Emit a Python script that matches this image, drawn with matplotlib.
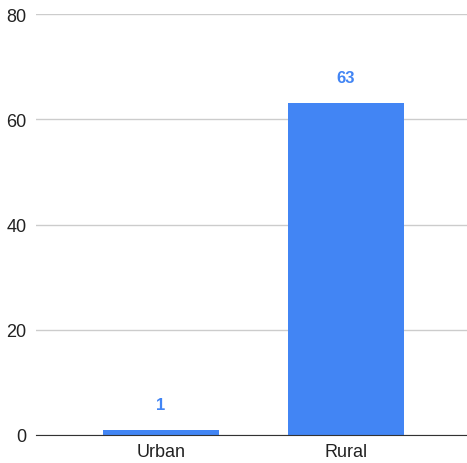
import matplotlib

matplotlib.use("Agg")
import matplotlib.pyplot as plt

categories = ["Urban", "Rural"]
counts = [1, 63]
y_ticks = [0, 20, 40, 60, 80]

BAR_COLOR = "#4285f4"
plt.rcParams["font.family"] = ["Liberation Sans", "DejaVu Sans"]

fig = plt.figure(figsize=(4.67, 4.64), dpi=100)
ax = fig.add_axes([36 / 467, 1 - 436 / 464, 431 / 467, 421 / 464])

xs = list(range(len(categories)))
bars = ax.bar(xs, counts, width=0.63, color=BAR_COLOR, zorder=3)
for bar, v in zip(bars, counts):
    ax.annotate(str(v), (bar.get_x() + bar.get_width() / 2, v),
                xytext=(0, 13), textcoords="offset points",
                ha="center", va="bottom", color=BAR_COLOR,
                fontsize=12, fontweight="bold")

ax.set_xlim(-0.676, 1.654)
ax.set_ylim(0, 80)
ax.set_yticks(y_ticks)
ax.set_xticks(xs)
ax.set_xticklabels(categories)
ax.grid(axis="y", color="#cccccc", lw=1, zorder=0)
for side in ("top", "right", "left"):
    ax.spines[side].set_visible(False)
ax.spines["bottom"].set_color("#333333")
ax.spines["bottom"].set_zorder(4)
ax.tick_params(axis="both", length=0, labelsize=13, colors="#222222")
ax.tick_params(axis="y", pad=7)
ax.tick_params(axis="x", pad=6)

fig.savefig("out.png", dpi=100)
